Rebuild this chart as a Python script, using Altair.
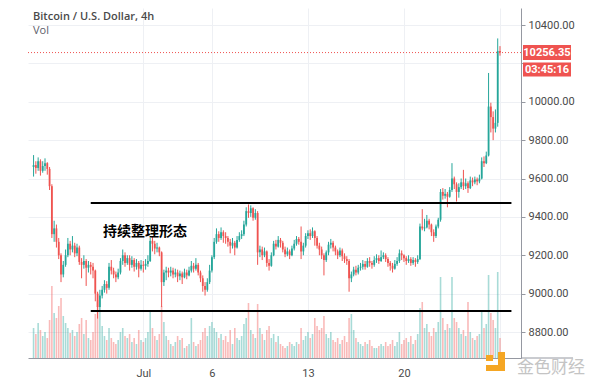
import altair as alt
import pandas as pd

# ---------------- data ----------------
FIRST_OPEN = 9660
close = [
    9670, 9655, 9690, 9640, 9665, 9680,      # Jun 23
    9650, 9560, 9310, 9340, 9270, 9200,      # Jun 24
    9100, 9150, 9200, 9260, 9230, 9250,      # Jun 25
    9210, 9240, 9165, 9150, 9170, 9135,      # Jun 26
    9150, 9140, 9120, 9000, 8930, 8990,      # Jun 27
    9020, 9050, 9030, 9140, 9120, 9100,      # Jun 28
    9085, 9110, 9170, 9200, 9160, 9185,      # Jun 29
    9150, 9175, 9140, 9160, 9130, 9150,      # Jun 30
    9145, 9155, 9170, 9275, 9260, 9235,      # Jul 1
    9240, 9215, 9060, 9110, 9120, 9110,      # Jul 2
    9120, 9100, 9110, 9090, 9105, 9085,      # Jul 3
    9110, 9095, 9120, 9145, 9130, 9150,      # Jul 4
    9110, 9080, 9040, 9020, 9060, 9120,      # Jul 5
    9190, 9270, 9310, 9290, 9320, 9300,      # Jul 6
    9290, 9270, 9250, 9265, 9240, 9280,      # Jul 7
    9300, 9310, 9360, 9430, 9420, 9445,      # Jul 8
    9395, 9420, 9215, 9230, 9200, 9220,      # Jul 9
    9160, 9145, 9200, 9260, 9245, 9280,      # Jul 10
    9265, 9230, 9205, 9220, 9200, 9235,      # Jul 11
    9260, 9285, 9270, 9220, 9250, 9300,      # Jul 12
    9315, 9300, 9325, 9290, 9250, 9230,      # Jul 13
    9200, 9175, 9215, 9255, 9265, 9240,      # Jul 14
    9220, 9200, 9225, 9195, 9180, 9170,      # Jul 15
    9080, 9100, 9125, 9110, 9135, 9140,      # Jul 16
    9155, 9140, 9170, 9160, 9150, 9175,      # Jul 17
    9185, 9170, 9190, 9200, 9180, 9160,      # Jul 18
    9145, 9130, 9155, 9170, 9210, 9200,      # Jul 19
    9185, 9170, 9180, 9160, 9175, 9165,      # Jul 20
    9180, 9350, 9340, 9345, 9380, 9360,      # Jul 21
    9320, 9300, 9350, 9385, 9530, 9510,      # Jul 22
    9520, 9505, 9540, 9600, 9570, 9530,      # Jul 23
    9555, 9580, 9560, 9575, 9550, 9590,      # Jul 24
    9580, 9595, 9585, 9600, 9690, 9680,      # Jul 25
    9720, 9975, 9920, 9860, 9890, 10265,     # Jul 26
    10256.35,                                # Jul 27
]
high = [
    9722, 9690, 9710, 9700, 9690, 9705,
    9685, 9660, 9570, 9380, 9360, 9290,
    9210, 9170, 9230, 9290, 9275, 9300,
    9265, 9260, 9250, 9185, 9200, 9180,
    9170, 9165, 9160, 9125, 9010, 9020,
    9040, 9070, 9065, 9160, 9175, 9135,
    9115, 9130, 9185, 9230, 9215, 9200,
    9200, 9195, 9185, 9180, 9170, 9175,
    9170, 9180, 9200, 9290, 9300, 9275,
    9265, 9245, 9220, 9125, 9140, 9135,
    9140, 9135, 9130, 9125, 9120, 9115,
    9130, 9125, 9140, 9170, 9160, 9185,
    9160, 9120, 9095, 9060, 9080, 9150,
    9200, 9290, 9340, 9325, 9345, 9330,
    9320, 9300, 9285, 9290, 9275, 9300,
    9320, 9330, 9380, 9450, 9465, 9460,
    9450, 9440, 9430, 9250, 9245, 9240,
    9225, 9180, 9215, 9275, 9280, 9300,
    9290, 9275, 9245, 9240, 9230, 9250,
    9280, 9300, 9295, 9350, 9265, 9315,
    9330, 9335, 9345, 9330, 9300, 9265,
    9245, 9210, 9225, 9270, 9285, 9275,
    9250, 9230, 9240, 9235, 9210, 9195,
    9180, 9115, 9140, 9145, 9150, 9160,
    9175, 9170, 9185, 9190, 9170, 9195,
    9205, 9200, 9225, 9215, 9210, 9190,
    9170, 9160, 9175, 9190, 9230, 9225,
    9205, 9195, 9200, 9190, 9190, 9185,
    9200, 9365, 9440, 9390, 9410, 9390,
    9365, 9335, 9360, 9395, 9545, 9550,
    9545, 9530, 9555, 9680, 9610, 9580,
    9575, 9600, 9645, 9600, 9585, 9610,
    9605, 9610, 9605, 9620, 9710, 9715,
    9740, 10150, 9995, 9950, 9960, 10330,
    10290,
]
low = [
    9610, 9625, 9640, 9615, 9630, 9640,
    9620, 9540, 9290, 9270, 9240, 9180,
    9060, 9085, 9140, 9190, 9200, 9215,
    9190, 9195, 9150, 9080, 9130, 9040,
    9110, 9100, 9080, 8960, 8870, 8910,
    8975, 9005, 9000, 9020, 9100, 9080,
    9060, 9075, 9100, 9150, 9140, 9150,
    9120, 9135, 9115, 9125, 9085, 9120,
    9110, 9125, 9140, 9165, 9220, 9205,
    9215, 9195, 8930, 9040, 9070, 9085,
    9090, 9080, 9085, 9060, 9070, 9050,
    9080, 9075, 9090, 9110, 9110, 9120,
    9095, 9060, 9010, 8990, 9010, 9050,
    9110, 9180, 9260, 9270, 9280, 9265,
    9260, 9245, 9210, 9235, 9200, 9235,
    9270, 9285, 9300, 9350, 9395, 9400,
    9380, 9385, 9150, 9190, 9175, 9190,
    9140, 9120, 9140, 9195, 9230, 9240,
    9240, 9215, 9190, 9195, 9180, 9195,
    9225, 9250, 9255, 9180, 9200, 9240,
    9285, 9280, 9290, 9250, 9235, 9200,
    9180, 9095, 9165, 9200, 9235, 9220,
    9200, 9180, 9190, 9170, 9160, 9150,
    9010, 9060, 9090, 9095, 9100, 9120,
    9125, 9125, 9135, 9140, 9130, 9140,
    9160, 9155, 9165, 9180, 9165, 9140,
    9120, 9110, 9125, 9145, 9160, 9175,
    9165, 9150, 9160, 9145, 9150, 9140,
    9155, 9175, 9330, 9325, 9340, 9335,
    9300, 9270, 9290, 9340, 9375, 9490,
    9495, 9450, 9500, 9530, 9545, 9480,
    9500, 9545, 9540, 9545, 9525, 9545,
    9560, 9570, 9565, 9575, 9595, 9660,
    9675, 9715, 9840, 9800, 9840, 9870,
    10240,
]
volume = [
    30, 24, 35, 28, 22, 26,
    20, 38, 72, 45, 40, 52,
    60, 42, 35, 30, 25, 28,
    22, 26, 34, 40, 24, 38,
    20, 18, 26, 44, 58, 48,
    32, 22, 18, 30, 20, 16,
    14, 18, 26, 30, 22, 20,
    24, 16, 20, 14, 28, 18,
    16, 20, 26, 46, 30, 22,
    18, 24, 52, 36, 22, 18,
    14, 12, 16, 22, 18, 20,
    10, 12, 14, 40, 16, 12,
    14, 18, 26, 30, 22, 32,
    36, 30, 26, 20, 24, 18,
    22, 16, 28, 14, 30, 20,
    18, 22, 34, 40, 55, 28,
    24, 20, 54, 30, 24, 18,
    28, 32, 20, 24, 16, 22,
    14, 12, 10, 12, 16, 14,
    12, 16, 14, 30, 18, 22,
    26, 20, 24, 40, 32, 28,
    30, 42, 24, 20, 26, 18,
    16, 20, 14, 18, 22, 16,
    40, 44, 28, 20, 16, 14,
    12, 16, 14, 18, 12, 10,
    10, 12, 14, 12, 16, 12,
    14, 18, 12, 16, 26, 14,
    18, 20, 16, 22, 14, 18,
    24, 50, 56, 30, 34, 26,
    22, 30, 26, 36, 81, 40,
    28, 34, 30, 81, 40, 36,
    30, 24, 28, 22, 56, 26,
    20, 18, 22, 24, 46, 30,
    34, 83, 45, 38, 30, 86,
    20,
]
CURRENT_PRICE = 10256.35
COUNTDOWN = "03:45:16"
LEVELS = [9472, 8910]
LEVEL_START = "2020-06-27T04:00:00"
LEVEL_END = "2020-07-27T20:00:00"
PRICE_TICKS = [8800, 9000, 9200, 9400, 9600, 9800, 10000, 10200, 10400]
HIDDEN_TICK = 10200
TITLE = "Bitcoin / U.S. Dollar, 4h"
SUBTITLE = "Vol"
ANNOTATION = "持续整理形态"
WATERMARK = "金色财经"

# ---------------- build table ----------------
UP, DOWN = "#26a69a", "#ef5350"
times = pd.date_range("2020-06-23 00:00", periods=len(close), freq="4h")
opens = [FIRST_OPEN] + close[:-1]
df = pd.DataFrame({
    "t": times.strftime("%Y-%m-%dT%H:%M:%S"),
    "o": opens, "c": close, "h": high, "l": low, "v": volume,
})
df["col"] = [UP if c >= o else DOWN for o, c in zip(opens, close)]

W, H = 493, 350
Y_DOMAIN = [8664.5, 10488.6]
PX = (Y_DOMAIN[1] - Y_DOMAIN[0]) / H

FONT = "Roboto"
GRID = "#eef0f4"
AXC = "#9598a1"
LBL = "#4a4a4a"

x_scale = alt.Scale(domain=[
    alt.DateTime(year=2020, month=6, date=22, hours=23),
    alt.DateTime(year=2020, month=7, date=28, hours=4),
])
x_axis = alt.Axis(
    values=[alt.DateTime(year=2020, month=7, date=d) for d in (1, 6, 13, 20, 27)],
    labelExpr="date(datum.value) == 1 ? 'Jul' : (date(datum.value) == 27 ? '' : toString(date(datum.value)))",
    title=None, grid=True, gridColor=GRID, domainColor=AXC, ticks=False,
    labelPadding=9, labelColor=LBL, labelFontSize=11, labelFont=FONT,
)
y_scale = alt.Scale(domain=Y_DOMAIN, nice=False, zero=False)
y_axis = alt.Axis(
    orient="right", values=PRICE_TICKS, format=".2f", title=None, grid=True,
    labelExpr=f"datum.value == {HIDDEN_TICK} ? '' : datum.label",
    gridColor=GRID, domainColor=AXC, tickColor=AXC, tickSize=4,
    labelColor=LBL, labelFontSize=11, labelFont=FONT, labelPadding=3,
)

def X(field):
    return alt.X(field, type="temporal", scale=x_scale, axis=x_axis)

def Y(field):
    return alt.Y(field, type="quantitative", scale=y_scale, axis=y_axis)

base = alt.Chart(df)

vol_layer = base.mark_bar(size=1.6, opacity=0.4).encode(
    x=X("t"),
    y=alt.Y("v:Q", scale=alt.Scale(domain=[0, H]), axis=None),
    color=alt.Color("col:N", scale=None),
)

wicks = base.mark_rule(strokeWidth=1).encode(
    x=X("t"), y=Y("l"), y2="h", color=alt.Color("col:N", scale=None),
)
bodies = base.mark_bar(size=1.8).encode(
    x=X("t"), y=Y("o"), y2="c", color=alt.Color("col:N", scale=None),
)

lv = pd.DataFrame({"t1": [LEVEL_START] * len(LEVELS), "t2": [LEVEL_END] * len(LEVELS), "p": LEVELS})
levels = alt.Chart(lv).mark_rule(color="black", strokeWidth=2).encode(
    x=alt.X("t1:T", scale=x_scale, axis=x_axis), x2="t2:T", y=Y("p"),
)

cur = pd.DataFrame({
    "p": [CURRENT_PRICE],
    "top": [CURRENT_PRICE + 7.5 * PX], "bot": [CURRENT_PRICE - 7.5 * PX],
    "top2": [CURRENT_PRICE - 10 * PX], "bot2": [CURRENT_PRICE - 24 * PX],
    "mid2": [CURRENT_PRICE - 17 * PX],
    "label": [f"{CURRENT_PRICE:.2f}"], "timer": [COUNTDOWN],
})
cur_base = alt.Chart(cur)
price_line = cur_base.mark_rule(color=DOWN, strokeWidth=1, strokeDash=[1, 2]).encode(y=Y("p"))
box1 = cur_base.mark_rect(color=DOWN).encode(x=alt.value(495), x2=alt.value(543), y=Y("top"), y2="bot")
box2 = cur_base.mark_rect(color=DOWN).encode(x=alt.value(495), x2=alt.value(543), y=Y("top2"), y2="bot2")
txt1 = cur_base.mark_text(color="white", fontSize=11, fontWeight="bold", font=FONT).encode(
    x=alt.value(519), y=Y("p"), text="label:N")
txt2 = cur_base.mark_text(color="white", fontSize=11, fontWeight="bold", font=FONT).encode(
    x=alt.value(519), y=Y("mid2"), text="timer:N")

one = pd.DataFrame({"title": [TITLE], "sub": [SUBTITLE], "ann": [ANNOTATION], "wm": [WATERMARK]})
ob = alt.Chart(one)
title_t = ob.mark_text(align="left", baseline="middle", fontSize=11, fontWeight=600,
                       color="#4a4a4a", font="Open Sans").encode(x=alt.value(5), y=alt.value(9), text="title:N")
sub_t = ob.mark_text(align="left", baseline="middle", fontSize=11, color="#5d606b",
                     font="Open Sans").encode(x=alt.value(5), y=alt.value(23), text="sub:N")
ann_t = ob.mark_text(align="center", baseline="middle", fontSize=14, fontWeight="bold",
                     color="black", font="Noto Sans CJK SC").encode(
    x=alt.value(117), y=alt.value(223.5), text="ann:N")
wm_t = ob.mark_text(align="center", baseline="middle", fontSize=17, color="#c4c4c4",
                    font="Noto Sans CJK SC").encode(x=alt.value(523), y=alt.value(360), text="wm:N")
ORANGE = "#f5a623"
logo1 = ob.mark_rect(color=ORANGE).encode(x=alt.value(458), x2=alt.value(465), y=alt.value(347), y2=alt.value(353))
logo2 = ob.mark_rect(color=ORANGE).encode(x=alt.value(470), x2=alt.value(477), y=alt.value(344), y2=alt.value(363))
logo3 = ob.mark_rect(color=ORANGE).encode(x=alt.value(458), x2=alt.value(477), y=alt.value(357), y2=alt.value(363))
axis_ext = ob.mark_rule(color=AXC, strokeWidth=1).encode(x=alt.value(W), x2=alt.value(545), y=alt.value(H))

price_layer = alt.layer(wicks, bodies, levels, price_line, box1, box2, txt1, txt2)

chart = alt.layer(
    vol_layer, price_layer, title_t, sub_t, ann_t, axis_ext, logo1, logo2, logo3, wm_t
).resolve_scale(y="independent").properties(
    width=W, height=H,
    autosize=alt.AutoSizeParams(type="none"),
    padding={"left": 20, "top": 0, "right": 70, "bottom": 22},
).configure_view(stroke=None)

chart.save("out.html", embed_options={"renderer": "svg", "actions": False})
